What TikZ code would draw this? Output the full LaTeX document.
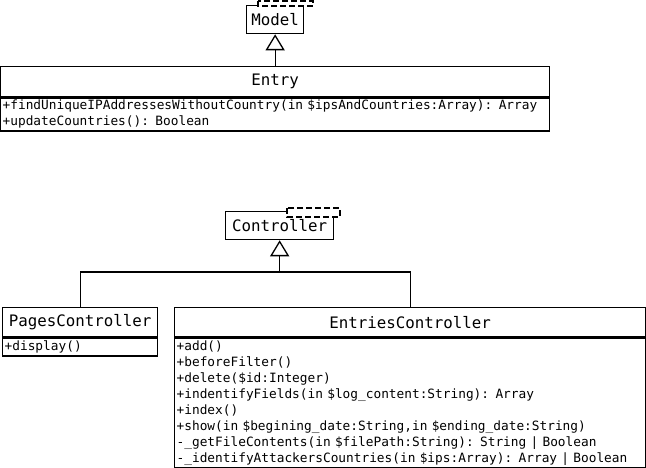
\documentclass[tikz,border=0pt]{standalone}
\usepackage{fontspec}
\newfontfamily\umlfont{DejaVu Sans Mono}
\newcommand\monospacing{\fontdimen2\font=0.602em\fontdimen3\font=0pt\fontdimen4\font=0pt}
\usetikzlibrary{arrows.meta, positioning}

\tikzset{
  classname/.style={draw, line width=1.3pt, anchor=north west, inner sep=0pt,
    minimum height=29pt, font=\umlfont\fontsize{15.8}{18}\selectfont},
  classops/.style={draw, line width=1.3pt, anchor=north west, inner xsep=2pt,
    inner ysep=1pt, align=left, font=\umlfont\fontsize{12.8}{16}\selectfont\monospacing},
  pkgtab/.style={draw, fill=white, dash pattern=on 6pt off 3pt, line width=1.3pt},
  inherit/.style={line width=1.3pt, -{Triangle[open, length=16pt, width=19pt]}},
}

\begin{document}
\begin{tikzpicture}[x=1pt, y=-1pt]
  \useasboundingbox (0,0) rectangle (646,468);

  % Model package
  \node[classname, minimum width=57pt, minimum height=28pt] (model) at (246,5) {Model};
  \draw[pkgtab] (258,1) rectangle (313,6);

  % Entry class
  \node[classname, minimum width=549pt, minimum height=30pt] (entry) at (0,66) {Entry};
  \node[classops, text width=545pt, minimum height=33pt] (entryops) at (entry.south west)
    {+findUniqueIPAddressesWithoutCountry(in \$ipsAndCountries:Array): Array\\
     +updateCountries(): Boolean};

  \draw[inherit] (entry.north -| model.south) -- (model.south);

  % Controller package
  \node[classname, minimum width=108pt, minimum height=28pt] (controller) at (225,211) {Controller};
  \draw[pkgtab] (287,208) rectangle (340,217);

  % PagesController class
  \node[classname, minimum width=155pt] (pages) at (2,307) {PagesController};
  \node[classops, text width=151pt, minimum height=18pt] (pagesops) at (pages.south west)
    {+display()};

  % EntriesController class
  \node[classname, minimum width=471pt] (entries) at (174,307) {EntriesController};
  \node[classops, text width=467pt, minimum height=130pt] (entriesops) at (entries.south west)
    {+add()\\
     +beforeFilter()\\
     +delete(\$id:Integer)\\
     +indentifyFields(in \$log\_content:String): Array\\
     +index()\\
     +show(in \$begining\_date:String,in \$ending\_date:String)\\
     -\_getFileContents(in \$filePath:String): String | Boolean\\
     -\_identifyAttackersCountries(in \$ips:Array): Array | Boolean};

  % generalization to Controller
  \coordinate (ctrljoin) at (controller.south |- 0,272);
  \draw[inherit] (ctrljoin) -- (controller.south);
  \draw[line width=1.3pt] (pages.north) |- (ctrljoin);
  \draw[line width=1.3pt] (entries.north) |- (ctrljoin);
\end{tikzpicture}
\end{document}
